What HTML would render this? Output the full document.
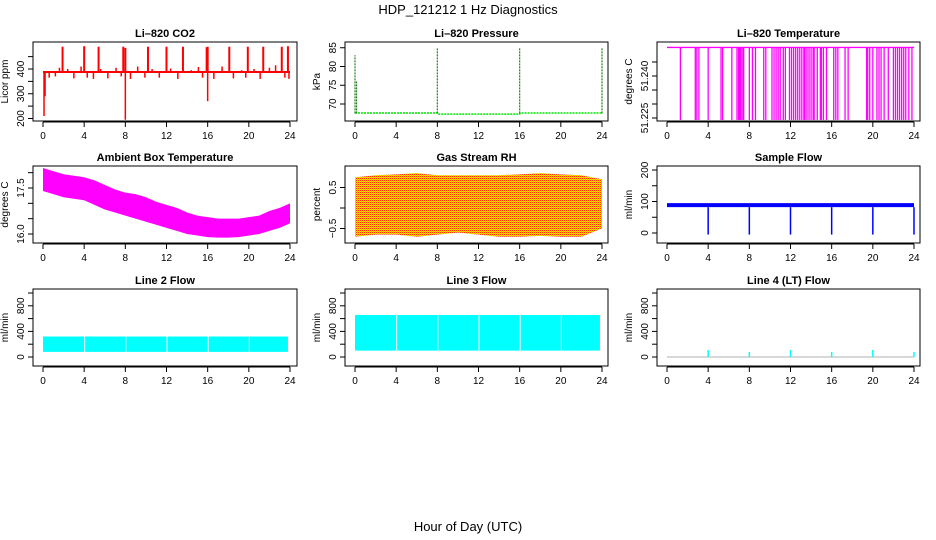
<!DOCTYPE html>
<html><head><meta charset="utf-8"><style>
html,body{margin:0;padding:0;background:#fff}
svg{display:block;font-family:"Liberation Sans",sans-serif}
</style></head><body>
<svg id="fig" width="936" height="540" viewBox="0 0 936 540" xmlns="http://www.w3.org/2000/svg">
<defs>
<pattern id="rhpat" width="2" height="2" patternUnits="userSpaceOnUse">
<rect width="2" height="2" fill="#ffdd00"/><rect width="1" height="1" fill="#ff3000"/><rect x="1" y="1" width="1" height="1" fill="#ffaa00"/>
</pattern>
</defs>
<text x="468" y="14" font-size="13" text-anchor="middle">HDP_121212  1 Hz Diagnostics</text>
<text x="468" y="531" font-size="13" text-anchor="middle">Hour of Day (UTC)</text>
</svg>
<script>
// ---- data ----
const hourTicks=[0,4,8,12,16,20,24];
const co2Base=388;
const co2UpHours=[1.9,4.0,5.4,7.8,8.0,10.2,12.0,13.6,15.9,16.0,18.1,19.9,21.4,23.2,23.8];
const co2UpVals=[490,492,490,490,485,490,490,490,488,490,490,490,490,490,492];
const co2DownHours=[0.1,0.2,8.0,16.0,23.9];
const co2DownVals=[210,290,195,270,360];
const co2SmallHours=[0.6,1.2,1.6,2.4,3.0,3.7,4.3,4.9,5.6,6.3,7.1,7.6,8.5,9.2,9.9,10.6,11.3,12.4,13.1,14.4,15.1,15.5,16.6,17.4,18.5,19.3,19.7,20.5,21.1,22.0,22.6,23.5];
const co2SmallVals=[365,370,405,400,362,410,365,360,400,362,405,370,360,410,365,400,365,402,360,395,408,365,360,410,362,395,365,400,360,405,415,365];
const presLineHours=[0,8,8.05,16,16.05,24];
const presLineVals=[67.6,67.6,67.3,67.3,67.6,67.6];
const presSpikeHours=[0,0.15,8,16,24];
const presSpikeVals=[83,76,85,85,85];
const tempTop=51.2502;
const tempBottom=51.2243;
const tempDropHours=[1.3,2.75,2.9,3.1,4.0,5.25,5.4,6.3,6.8,6.95,7.05,7.15,7.3,7.45,8.0,8.3,8.6,9.4,9.6,10.2,10.4,10.6,10.8,11.0,11.3,11.5,11.9,12.1,12.3,12.5,12.7,12.9,13.1,13.3,13.4,13.6,13.8,14.0,14.2,14.3,14.6,14.9,15.0,15.2,15.5,16.2,16.4,16.6,17.3,17.6,19.4,19.5,19.7,20.0,20.4,20.6,20.8,21.1,21.5,22.0,22.2,22.4,22.6,22.8,23.0,23.2,23.5,23.8];
const ambHours=[0,1,2,3,4,5,6,7,8,9,10,11,12,13,14,15,16,17,18,19,20,21,22,23,24];
const ambHi=[18.15,18.05,17.95,17.9,17.85,17.75,17.6,17.45,17.35,17.3,17.2,17.05,16.95,16.85,16.7,16.6,16.55,16.5,16.5,16.5,16.55,16.6,16.75,16.85,17.0];
const ambLo=[17.4,17.3,17.2,17.15,17.1,16.95,16.8,16.7,16.6,16.5,16.4,16.3,16.2,16.1,16.0,15.95,15.9,15.88,15.88,15.9,15.95,16.0,16.1,16.2,16.35];
const rhHours=[0,2,4,6,8,10,12,14,16,18,20,22,24];
const rhHi=[0.75,0.8,0.82,0.85,0.8,0.8,0.8,0.8,0.82,0.85,0.82,0.8,0.7];
const rhLo=[-0.7,-0.65,-0.65,-0.7,-0.65,-0.6,-0.65,-0.7,-0.7,-0.68,-0.7,-0.7,-0.5];
const sfHi=95, sfLo=82;
const sfDropHours=[4,8,12,16,20,24];
const sfDropVals=[-5,-5,-5,-5,-5,-5];
const l2Gaps=[4,8,12,16,20];
const l2Hi=320, l2Lo=80;
const l3Gaps=[4,8,12,16,20];
const l3Hi=656, l3Lo=100;
const l4SpikeHours=[4,8,12,16,20,24];
const l4SpikeVals=[110,80,110,80,110,80];

// ---- layout ----
const svg=document.getElementById('fig');
const NS='http://www.w3.org/2000/svg';
const cols=[{x0:33,x1:297,xl:43},{x0:345,x1:608,xl:355},{x0:657,x1:920,xl:667}];
const rows=[{y0:42,y1:121},{y0:166,y1:243},{y0:289,y1:366}];
function mk(tag,attrs,parent){const e=document.createElementNS(NS,tag);for(const k in attrs)e.setAttribute(k,attrs[k]);(parent||svg).appendChild(e);return e;}

function panel(c,r,name,title,ylab,ref,k,ticks,labels){
  const C=cols[c],R=rows[r];
  const g=mk('g',{});
  
  
  const X=h=>C.xl+h*(247/24);
  const Y=v=>ref[1]-(v-ref[0])*k;
  const t=mk('text',{x:(C.x0+C.x1)/2,y:R.y0-5,'font-size':11,'font-weight':'bold','text-anchor':'middle'},g);
  t.textContent=title;
  
  
  const yl=mk('text',{transform:`translate(${C.x0-25},${(R.y0+R.y1)/2}) rotate(-90)`,'font-size':10,'text-anchor':'middle'},g);
  yl.textContent=ylab;
  
  
  mk('line',{x1:X(0),x2:X(24),y1:R.y1+1,y2:R.y1+1,stroke:'#000'},g);
  hourTicks.forEach(h=>{
    mk('line',{x1:X(h),x2:X(h),y1:R.y1+1,y2:R.y1+6,stroke:'#000'},g);
    const tl=mk('text',{x:X(h),y:R.y1+18,'font-size':10,'text-anchor':'middle'},g);
    tl.textContent=h;
    
    
  });
  mk('line',{x1:C.x0,x2:C.x0,y1:Y(ticks[0]),y2:Y(ticks[ticks.length-1]),stroke:'#000'},g);
  ticks.forEach(v=>mk('line',{x1:C.x0-5,x2:C.x0,y1:Y(v),y2:Y(v),stroke:'#000'},g));
  labels.forEach(([v,s])=>{
    const tl=mk('text',{transform:`translate(${C.x0-9},${Y(v)}) rotate(-90)`,'font-size':10,'text-anchor':'middle'},g);
    tl.textContent=s;
    
    
  });
  const clipId='clip'+c+r;
  const cp=mk('clipPath',{id:clipId},g);mk('rect',{x:C.x0,y:R.y0,width:C.x1-C.x0,height:R.y1-R.y0},cp);
  const plot=mk('g',{'clip-path':`url(#${clipId})`},g);
  const box=mk('rect',{x:C.x0,y:R.y0,width:C.x1-C.x0,height:R.y1-R.y0,fill:'none',stroke:'#000'},g);
  
  
  return {X,Y,plot,g,box};
}
function vline(p,h,a,b,color,w,nm){
  const l=mk('line',{x1:p.X(h),x2:p.X(h),y1:p.Y(a),y2:p.Y(b),stroke:color,'stroke-width':w||1},p.plot);
  
  
  return l;
}
function band(p,hours,hi,lo,fill,nm){
  let pts=hours.map((h,i)=>p.X(h)+','+p.Y(hi[i]));
  pts=pts.concat(hours.slice().reverse().map((h,i)=>p.X(h)+','+p.Y(lo[hours.length-1-i])));
  const pg=mk('polygon',{points:pts.join(' '),fill:fill},p.plot);
  
  
  return pg;
}

// CO2
let p=panel(0,0,'co2','Li\u2013820 CO2','Licor ppm',[400,69],0.2475,[200,250,300,350,400,450],[[200,'200'],[300,'300'],[400,'400']]);
band(p,[0,24],[co2Base+4,co2Base+4],[co2Base-4,co2Base-4],'#ff0000','co2-baseline');
co2UpHours.forEach((h,i)=>vline(p,h,co2Base,co2UpVals[i],'#ff0000',2,'co2-spike'));
co2DownHours.forEach((h,i)=>vline(p,h,co2Base,co2DownVals[i],'#ff0000',1.5,'co2-dip'));
co2SmallHours.forEach((h,i)=>vline(p,h,co2Base,co2SmallVals[i],'#ff0000',1.5,'co2-excursion'));

// Pressure
p=panel(1,0,'pressure','Li\u2013820 Pressure','kPa',[70,104],3.75,[70,75,80,85],[[70,'70'],[75,'75'],[80,'80'],[85,'85']]);
const pl=mk('polyline',{points:presLineHours.map((h,i)=>p.X(h)+','+p.Y(presLineVals[i])).join(' '),fill:'none',stroke:'#00e000','stroke-width':1.5,'stroke-dasharray':'2 1'},p.plot);


presSpikeHours.forEach((h,i)=>{vline(p,h,67.5,presSpikeVals[i],'#208020',1.2,'pressure-spike').setAttribute('stroke-dasharray','2 1');});

// Temperature
p=panel(2,0,'li820-temp','Li\u2013820 Temperature','degrees C',[51.225,118],2800,[51.225,51.23,51.235,51.24,51.245],[[51.225,'51.225'],[51.24,'51.240']]);
const tl=mk('line',{x1:p.X(0),x2:p.X(24),y1:p.Y(tempTop),y2:p.Y(tempTop),stroke:'#ff00ff','stroke-width':1.3},p.plot);


tempDropHours.forEach(h=>vline(p,h,tempTop,tempBottom,'#ff00ff',1.3,'temp-drop'));

// Ambient
p=panel(0,1,'ambient','Ambient Box Temperature','degrees C',[16,234],30.67,[16,16.5,17,17.5,18],[[16,'16.0'],[17.5,'17.5']]);
band(p,ambHours,ambHi,ambLo,'#ff00ff','ambient-band');

// RH
p=panel(1,1,'rh','Gas Stream RH','percent',[0,208],41,[-0.5,0,0.5],[[-0.5,'\u22120.5'],[0.5,'0.5']]);
band(p,rhHours,rhHi,rhLo,'url(#rhpat)','rh-band');

// Sample flow
p=panel(2,1,'sample-flow','Sample Flow','ml/min',[0,233],0.315,[0,50,100,150,200],[[0,'0'],[100,'100'],[200,'200']]);
band(p,[0,24],[sfHi,sfHi],[sfLo,sfLo],'#0000ff','sample-flow-band');
sfDropHours.forEach((h,i)=>vline(p,h,sfLo,sfDropVals[i],'#0000ff',1.5,'sample-flow-drop'));

// Line flows
function gapBand(p,gaps,hi,lo,nm){
  const edges=[0].concat(gaps).concat([23.8]);
  for(let i=0;i<edges.length-1;i++){
    const a=edges[i]+(i?0.1:0), b=edges[i+1];
    const r=mk('rect',{x:p.X(a),y:p.Y(hi),width:p.X(b)-p.X(a),height:p.Y(lo)-p.Y(hi),fill:'#00ffff'},p.plot);
    
    
  }
}
const flowTicks=[0,200,400,600,800,1000], flowLabels=[[0,'0'],[400,'400'],[800,'800']];
p=panel(0,2,'line2-flow','Line 2 Flow','ml/min',[0,357],0.064,flowTicks,flowLabels);
gapBand(p,l2Gaps,l2Hi,l2Lo,'line2-flow-band');
p=panel(1,2,'line3-flow','Line 3 Flow','ml/min',[0,357],0.064,flowTicks,flowLabels);
gapBand(p,l3Gaps,l3Hi,l3Lo,'line3-flow-band');
p=panel(2,2,'line4-flow','Line 4 (LT) Flow','ml/min',[0,357],0.064,flowTicks,flowLabels);
const l4=mk('line',{x1:p.X(0),x2:p.X(24),y1:p.Y(0),y2:p.Y(0),stroke:'#b0b0b0','stroke-width':1},p.plot);


l4SpikeHours.forEach((h,i)=>vline(p,h,0,l4SpikeVals[i],'#00ffff',1.5,'line4-flow-spike'));
</script>
</body></html>
